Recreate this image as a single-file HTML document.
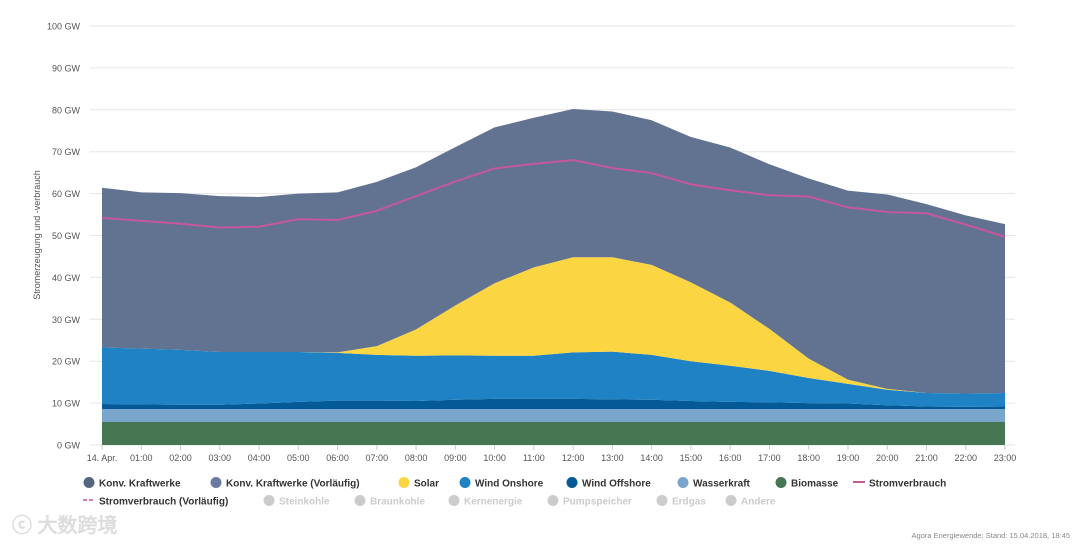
<!DOCTYPE html>
<html><head><meta charset="utf-8"><style>
body{margin:0;background:#fff;font-family:"Liberation Sans",sans-serif;}
svg text{font-family:"Liberation Sans",sans-serif;}
</style></head><body>
<svg id="chart" width="1080" height="543" viewBox="0 0 1080 543">
<g id="grid"></g><g id="areas"></g><g id="lines"></g><g id="axes"></g><g id="legend"></g>
<text x="1070" y="538" font-size="7.5" fill="#888" text-anchor="end">Agora Energiewende; Stand: 15.04.2018, 18:45</text>
<text x="12" y="532" font-size="20" fill="#ddd" font-weight="bold" font-family="'Liberation Sans','Noto Sans CJK SC',sans-serif">ⓒ 大数跨境</text>
</svg>
<script>
const hours=["14. Apr.","01:00","02:00","03:00","04:00","05:00","06:00","07:00","08:00","09:00","10:00","11:00","12:00","13:00","14:00","15:00","16:00","17:00","18:00","19:00","20:00","21:00","22:00","23:00"];
const yTicks=[0,10,20,30,40,50,60,70,80,90,100];
const biomasse=[5.5,5.5,5.5,5.5,5.5,5.5,5.5,5.5,5.5,5.5,5.5,5.5,5.5,5.5,5.5,5.5,5.5,5.5,5.5,5.5,5.5,5.5,5.5,5.5];
const wasser=[3.1,3.1,3.1,3.1,3.1,3.1,3.1,3.1,3.1,3.1,3.1,3.1,3.1,3.1,3.1,3.1,3.1,3.1,3.1,3.1,3.1,3.1,3.1,3.1];
const offshore=[1.2,1.1,1.0,1.0,1.3,1.7,2.0,2.0,1.9,2.2,2.4,2.4,2.4,2.3,2.2,1.9,1.7,1.6,1.4,1.3,0.9,0.6,0.5,0.6];
const onshore=[13.5,13.3,13.1,12.6,12.3,11.9,11.4,10.9,10.8,10.6,10.3,10.3,11.1,11.4,10.7,9.5,8.6,7.5,6.0,4.7,3.7,3.2,3.2,3.2];
const solar=[0,0,0,0,0,0,0.1,2.1,6.3,11.9,17.3,21.1,22.7,22.5,21.5,18.8,15.1,10.0,4.6,1.0,0.2,0,0,0];
const konv=[38.1,37.3,37.4,37.2,37.0,37.8,38.2,39.2,38.7,37.8,37.2,35.7,35.4,34.8,34.5,34.7,37.0,39.3,43.0,45.1,46.4,45.1,42.5,40.3];
const load=[54.2,53.5,52.8,51.9,52.1,53.9,53.7,55.9,59.4,62.9,66.0,67.1,68.0,66.1,64.9,62.2,60.8,59.6,59.3,56.7,55.6,55.3,52.6,49.7];

const NS="http://www.w3.org/2000/svg";
const X0=102,X1=1005,Y0=445,Y100=26;
const xs=i=>X0+(X1-X0)*i/(hours.length-1);
const ys=v=>Y0-(Y0-Y100)*v/100;
function mk(t,a,p){const e=document.createElementNS(NS,t);for(const k in a)e.setAttribute(k,a[k]);p.appendChild(e);return e;}
const grid=document.getElementById('grid'),axes=document.getElementById('axes');
yTicks.forEach(v=>{
  const l=mk('line',{x1:90,x2:1015,y1:ys(v),y2:ys(v),stroke:'#e6e6e6','stroke-width':1},grid);
  
  
  const t=mk('text',{x:80,y:ys(v)+3.5,'font-size':9,fill:'#555','text-anchor':'end'},axes);
  t.textContent=v+' GW';
  
  
});
hours.forEach((h,i)=>{
  const t=mk('text',{x:xs(i),y:461,'font-size':9,fill:'#555','text-anchor':'middle'},axes);
  t.textContent=h;
  
  
  mk('line',{x1:xs(i),x2:xs(i),y1:445,y2:450,stroke:'#ccc'},axes);
});
const yt=mk('text',{x:0,y:0,'font-size':9,fill:'#555','text-anchor':'middle',transform:'translate(40,235) rotate(-90)'},axes);
yt.textContent='Stromerzeugung und -verbrauch';



const series=[[biomasse,'#467752','biomasse'],[wasser,'#7aa6cb','wasserkraft'],[offshore,'#035a97','wind-offshore'],[onshore,'#1f82c4','wind-onshore'],[solar,'#fcd642','solar'],[konv,'#627392','konv-kraftwerke']];
const base=hours.map(()=>0);
const areas=document.getElementById('areas');
series.forEach(([arr,c,n])=>{
  const top=base.map((b,i)=>b+arr[i]);
  let d='M'+hours.map((_,i)=>xs(i)+','+ys(top[i])).join('L');
  for(let i=hours.length-1;i>=0;i--)d+='L'+xs(i)+','+ys(base[i]);
  const p=mk('path',{d:d+'Z',fill:c},areas);
  
  
  top.forEach((v,i)=>base[i]=v);
});
const lp=mk('path',{d:'M'+load.map((v,i)=>xs(i)+','+ys(v)).join('L'),fill:'none',stroke:'#c5579b','stroke-width':2},document.getElementById('lines'));



const lg=document.getElementById('legend');
const items=[[89,483,'#566680','Konv. Kraftwerke','c',1],[216,483,'#6b7a9e','Konv. Kraftwerke (Vorläufig)','c',1],[404,483,'#fcd642','Solar','c',1],[465,483,'#1f82c4','Wind Onshore','c',1],[572,483,'#035a97','Wind Offshore','c',1],[683,483,'#7aa6cb','Wasserkraft','c',1],[781,483,'#467752','Biomasse','c',1],[859,483,'#c5579b','Stromverbrauch','l',1],
[84,501,'#c5579b','Stromverbrauch (Vorläufig)','d',1],[269,501,'#ccc','Steinkohle','c',0],[360,501,'#ccc','Braunkohle','c',0],[454,501,'#ccc','Kernenergie','c',0],[553,501,'#ccc','Pumpspeicher','c',0],[662,501,'#ccc','Erdgas','c',0],[731,501,'#ccc','Andere','c',0]];
items.forEach(([x,y,c,label,k,on])=>{
  const g=mk('g',{},lg);
  
  
  if(k==='c')mk('circle',{cx:x,cy:y-0.5,r:5.5,fill:c},g);
  else if(k==='l')mk('line',{x1:x-6,x2:x+6,y1:y-1,y2:y-1,stroke:c,'stroke-width':2},g);
  else mk('line',{x1:x-1,x2:x+11,y1:y-1,y2:y-1,stroke:c,'stroke-width':1.5,'stroke-dasharray':'4,2'},g);
  const t=mk('text',{x:k==='d'?x+15:x+10,y:y+3.5,'font-size':10,'font-weight':'bold',fill:on?'#333':'#ccc'},g);
  t.textContent=label;
});
</script>
</body></html>
